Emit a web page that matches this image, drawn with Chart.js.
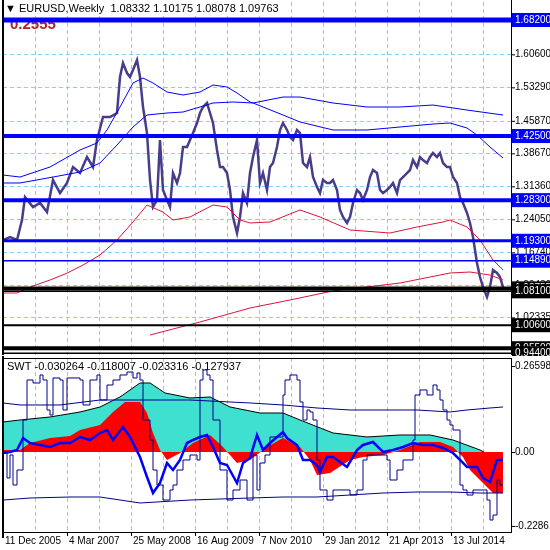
<!DOCTYPE html>
<html>
<head>
<meta charset="utf-8">
<script src="https://cdn.jsdelivr.net/npm/chart.js@4"></script>
<style>
  body { margin: 0; background: #fff; }
  #wrap { position: relative; width: 550px; height: 550px; }
  canvas { position: absolute; left: 0; }
</style>
</head>
<body>
<div id="wrap">
  <canvas id="main" width="550" height="356" style="top:0"></canvas>
  <canvas id="sub" width="550" height="194" style="top:356px"></canvas>
</div>
<script>
// weeks since 11 Dec 2005
var dateLabels = ['11 Dec 2005', '4 Mar 2007', '25 May 2008', '16 Aug 2009', '7 Nov 2010', '29 Jan 2012', '21 Apr 2013', '13 Jul 2014'];
var labelStep = 64;

var priceWeeks = [0,7,14,19,22,30,37,44,50,57,64,70,77,84,90,94,100,107,114,117,120,124,127,130,134,137,140,144,147,150,154,157,160,164,167,170,174,177,180,184,187,190,194,197,200,204,207,210,214,217,220,224,227,230,234,237,240,244,247,250,254,257,260,264,267,270,274,277,280,284,287,290,294,297,300,304,307,310,314,317,320,324,327,330,334,337,340,344,347,350,354,357,360,364,367,370,374,377,380,384,387,390,394,397,400,404,407,410,414,417,420,424,427,430,434,437,440,444,447,450,454,457,460,464,467,470,474,477,480,484,487,490,494,497,500];
var priceClose = [1.1947,1.2013,1.1947,1.2390,1.2899,1.2678,1.2767,1.2567,1.3276,1.2988,1.3210,1.3564,1.3431,1.3785,1.3564,1.4162,1.4671,1.4671,1.4760,1.5557,1.5868,1.5646,1.5557,1.5713,1.5934,1.5557,1.4893,1.4317,1.3276,1.2678,1.2833,1.4162,1.3055,1.2833,1.2678,1.3431,1.3210,1.3431,1.4007,1.4007,1.4162,1.4317,1.4539,1.4760,1.4893,1.4982,1.4760,1.4539,1.3941,1.3564,1.3564,1.3431,1.3055,1.2457,1.2102,1.2457,1.2988,1.2767,1.3431,1.3785,1.4162,1.3210,1.3431,1.3055,1.3564,1.3653,1.4007,1.4384,1.4539,1.4384,1.4228,1.4162,1.4384,1.4317,1.3653,1.3564,1.3785,1.3342,1.3121,1.2988,1.3276,1.3210,1.3210,1.3276,1.3055,1.2612,1.2457,1.2324,1.2457,1.2767,1.3055,1.2988,1.2833,1.3055,1.3342,1.3498,1.3431,1.3055,1.2988,1.3055,1.3121,1.3210,1.2988,1.3276,1.3342,1.3431,1.3498,1.3719,1.3564,1.3785,1.3719,1.3653,1.3785,1.3874,1.3785,1.3874,1.3653,1.3564,1.3564,1.3342,1.3210,1.2899,1.2767,1.2545,1.2324,1.2013,1.1438,1.1127,1.0906,1.0685,1.0906,1.1283,1.1216,1.1127,1.0906];

var maFastWeeks = [0,17,47,77,94,104,117,130,140,150,164,180,197,210,224,234,247,250,280,297,330,364,397,430,464,500];
var maFast = [1.3387,1.3342,1.3564,1.3941,1.4096,1.4384,1.4893,1.5425,1.5535,1.5425,1.5225,1.5159,1.5225,1.5380,1.5336,1.5203,1.5004,1.4982,1.5114,1.5114,1.4982,1.4893,1.4893,1.4937,1.4826,1.4716];
var maSlowWeeks = [0,17,50,77,97,114,130,144,164,180,197,210,230,250,280,297,330,364,397,430,447,464,474,487,500];
var maSlow = [1.3210,1.3210,1.3342,1.3453,1.3653,1.4051,1.4450,1.4716,1.4760,1.4782,1.4893,1.4982,1.5004,1.4982,1.4716,1.4561,1.4384,1.4384,1.4450,1.4516,1.4539,1.4428,1.4273,1.4007,1.3763];
var maRedWeeks = [0,14,30,47,64,80,97,114,130,144,160,170,187,210,224,237,247,267,297,317,347,387,414,440,447,464,477,490,500];
var maRed = [1.0773,1.0773,1.0928,1.1061,1.1213,1.1393,1.1615,1.1947,1.2346,1.2722,1.2567,1.2390,1.2457,1.2722,1.2678,1.2390,1.2324,1.2346,1.2612,1.2457,1.2169,1.2102,1.2235,1.2346,1.2390,1.2235,1.1947,1.1504,1.1283];
var maLongWeeks = [147,197,247,287,330,397,447,467,487,500];
var maLong = [0.9843,1.0131,1.0441,1.0618,1.0818,1.0994,1.1216,1.1238,1.1171,1.1061];

var levels = [1.682, 1.425, 1.283, 1.193, 1.1489, 1.08755, 1.081, 1.006, 0.955, 0.944];
var levelText = ['1.68200','1.42500','1.28300','1.19300','1.14890','1.08755','1.08100','1.00600','0.95500','0.94400'];
var priceTicks = [1.606, 1.5329, 1.4587, 1.3867, 1.3136, 1.2405, 1.1674, 1.0943, 1.02335, 0.955];
var priceTickText = ['1.60600','1.53290','1.45870','1.38670','1.31360','1.24050','1.16740','1.09430','1.02335','0.95500'];

var swtBandWeeks = [0,17,47,77,97,117,137,147,162,187,207,227,257,280,297,330,364,397,427,450,477,500];
var swtBand = [0.0928,0.0990,0.1083,0.1237,0.1392,0.1701,0.2134,0.2134,0.1825,0.1670,0.1701,0.1392,0.1206,0.1206,0.0990,0.0588,0.0464,0.0526,0.0526,0.0371,0.0062,-0.0309];
var swtHistWeeks = [0,17,27,47,67,77,97,110,122,137,144,150,157,164,177,190,207,220,234,247,264,280,297,307,314,327,347,360,380,397,417,437,450,460,467,480,490,500];
var swtHist = [0.0062,0.0062,0.0278,0.0433,0.0495,0.0680,0.0835,0.1237,0.1547,0.1547,0.1206,0.0588,0.0062,-0.0247,-0.0031,0.0278,0.0526,0.0155,-0.0340,-0.0247,0.0155,0.0433,0.0155,-0.0247,-0.0711,-0.0650,-0.0247,-0.0155,-0.0093,0.0062,0.0309,0.0309,0.0155,-0.0155,-0.0557,-0.0959,-0.1268,-0.1268];
var swtSignalWeeks = [0,7,14,20,27,37,47,57,67,77,87,97,104,110,120,127,137,144,150,157,164,170,177,184,190,197,204,210,217,224,234,240,247,254,260,267,274,280,284,294,300,307,314,317,324,330,337,344,354,360,370,380,390,400,410,420,430,440,450,457,464,474,480,487,494,500];
var swtSignal = [-0.0031,0,0.0062,0.0433,0.0278,0.0217,0.0155,0.0278,0.0278,0.0464,0.0371,0.0588,0.0680,0.0371,0.0773,0.0464,-0.0155,-0.0773,-0.1268,-0.0959,-0.0340,-0.0557,-0.0247,0.0278,0.0371,0.0464,0.0526,0.0155,-0.0340,-0.0402,-0.0959,-0.0340,-0.0186,0.0526,0.0062,0.0278,0.0464,0.0619,0.0433,0.0217,-0.0247,-0.0247,-0.0402,-0.0619,-0.0155,-0.0155,-0.0309,-0.0464,0.0062,0.0217,0.0309,0,0.0062,0.0155,0.0278,0.0217,0.0217,0.0124,-0.0031,-0.0247,-0.0464,-0.0464,-0.0804,-0.0928,-0.0247,-0.0247];
var swtStepWeeks = [0,4,7,10,14,20,24,30,37,40,44,47,50,57,60,64,70,77,80,87,94,97,104,110,117,124,130,134,137,140,144,147,150,154,160,167,170,174,180,187,194,197,200,204,207,210,217,224,230,237,244,250,254,257,262,267,280,282,287,294,297,300,304,307,310,314,317,324,330,337,347,354,360,364,370,380,384,387,390,394,400,404,410,412,417,424,430,434,437,440,444,447,450,454,457,460,464,470,477,484,487,490,494,497,500];
var swtStep = [-0.0031,-0.0804,-0.0093,-0.1021,-0.0557,0.0990,0.2227,0.2134,0.2382,0.2227,0.1299,0.1144,0.2289,0.2227,0.1299,0.2289,0.2289,0.2227,0.1454,0.2227,0.2382,0.1608,0.2072,0.2227,0.2382,0.2474,0.2289,0.2443,0.2227,0.0990,0.0990,0.0371,-0.0557,-0.1021,-0.1485,-0.1175,-0.1021,-0.0557,-0.0247,-0.0093,-0.0247,0.2227,0.2536,0.2382,0.2227,0.0990,-0.0557,-0.1485,-0.1175,-0.0866,-0.1485,-0.0093,-0.1175,-0.0340,-0.0093,0.0464,0.1763,0.2227,0.2382,0.2227,0.1547,0.0990,0.1299,0.1237,0.0990,-0.0247,-0.1175,-0.1485,-0.1175,-0.1175,-0.1330,-0.1175,-0.0247,-0.0093,-0.0093,-0.0093,-0.0247,-0.0866,-0.0866,-0.0557,-0.0247,-0.0247,0.0371,0.1763,0.1918,0.1763,0.2072,0.1918,0.1608,0.1299,0.0990,0.0835,0.0680,0.0680,-0.1021,-0.1175,-0.1330,-0.1175,-0.1175,-0.1485,-0.2103,-0.1949,-0.0866,-0.1021,-0.1021];
var envUpWeeks = [0,17,57,97,137,187,247,280,314,347,380,414,447,464,487,500];
var envUp = [0.1516,0.1454,0.1454,0.1608,0.1608,0.1608,0.1516,0.1454,0.1361,0.1299,0.1299,0.1299,0.1237,0.1299,0.1361,0.1392];
var envDnWeeks = [0,27,67,97,137,187,247,280,314,347,380,414,447,477,500];
var envDn = [-0.1485,-0.1423,-0.1392,-0.1392,-0.1577,-0.1485,-0.1423,-0.1392,-0.1392,-0.1330,-0.1268,-0.1237,-0.1237,-0.1268,-0.1268];
var swtTicks = [0.26598, 0, -0.22861];
var swtTickText = ['0.26598', '0.00', '-0.22861'];

function pts(xs, ys) { return xs.map(function (x, i) { return { x: x, y: ys[i] }; }); }
function line(xs, ys, color, width, extra) {
  var d = { data: pts(xs, ys), borderColor: color, borderWidth: width, pointRadius: 0, tension: 0, fill: false };
  for (var k in extra) d[k] = extra[k];
  return d;
}

var FONT = '11px "Liberation Sans", Arial, sans-serif';
var AXFONT = '10px "Liberation Sans", Arial, sans-serif';
var GRID = '#87cefa';

function vGrid(ctx, area, xs) {
  ctx.save();
  ctx.strokeStyle = GRID; ctx.lineWidth = 1; ctx.setLineDash([4, 3]);
  for (var w = 32; w < 508; w += 32) {
    var px = Math.round(xs.getPixelForValue(w)) + 0.5;
    ctx.beginPath(); ctx.moveTo(px, area.top); ctx.lineTo(px, area.bottom); ctx.stroke();
  }
  ctx.restore();
}

var mainDecor = {
  id: 'mainDecor',
  beforeDatasetsDraw: function (chart) {
    var ctx = chart.ctx, a = chart.chartArea, ys = chart.scales.y;
    vGrid(ctx, a, chart.scales.x);
    ctx.save();
    ctx.strokeStyle = GRID; ctx.setLineDash([4, 3]);
    priceTicks.forEach(function (v) {
      var py = Math.round(ys.getPixelForValue(v)) + 0.5;
      ctx.beginPath(); ctx.moveTo(a.left, py); ctx.lineTo(a.right, py); ctx.stroke();
    });
    ctx.restore();
    ctx.save();
    ctx.fillStyle = '#b22222'; ctx.font = 'bold 15px "Liberation Sans", Arial, sans-serif';
    ctx.fillText('0.2555', 10, 29);
    ctx.restore();
  },
  afterDatasetsDraw: function (chart) {
    var ctx = chart.ctx, a = chart.chartArea, ys = chart.scales.y;
    var widths = [5, 4, 4, 3, 1.5, 4, 1.5, 2, 4, 1.5];
    ctx.save();
    levels.forEach(function (v, i) {
      var py = ys.getPixelForValue(v);
      ctx.strokeStyle = v > 1.1 ? '#0000ff' : '#000000';
      ctx.lineWidth = widths[i];
      ctx.beginPath(); ctx.moveTo(a.left, py); ctx.lineTo(a.right, py); ctx.stroke();
    });
    // frame
    ctx.strokeStyle = '#000'; ctx.lineWidth = 2;
    ctx.beginPath(); ctx.moveTo(a.left, 0); ctx.lineTo(a.left, a.bottom); ctx.stroke();
    ctx.lineWidth = 1;
    ctx.beginPath(); ctx.moveTo(a.right + 0.5, 0); ctx.lineTo(a.right + 0.5, a.bottom); ctx.stroke();
    // header
    ctx.fillStyle = '#fff'; ctx.fillRect(a.left + 1, 0, 270, 16);
    ctx.fillStyle = '#000'; ctx.font = FONT; ctx.textBaseline = 'middle';
    ctx.fillText('\u25BC EURUSD,Weekly  1.08332 1.10175 1.08078 1.09763', 5, 9);
    // right axis
    ctx.font = AXFONT;
    ctx.fillStyle = '#fff'; ctx.fillRect(a.right + 1, 0, 550 - a.right, chart.height);
    ctx.fillStyle = '#000';
    priceTicks.forEach(function (v, i) {
      var py = ys.getPixelForValue(v);
      ctx.fillRect(a.right, py, 4, 1);
      ctx.fillText(priceTickText[i], a.right + 4, py);
    });
    levels.forEach(function (v, i) {
      var py = ys.getPixelForValue(v);
      ctx.fillStyle = v > 1.1 ? '#0000ff' : '#000000';
      ctx.fillRect(a.right + 1, py - 7, 550 - a.right, 14);
      ctx.fillStyle = '#fff';
      ctx.fillText(levelText[i], a.right + 4, py);
    });
    ctx.restore();
  }
};

var subDecor = {
  id: 'subDecor',
  beforeDatasetsDraw: function (chart) { vGrid(chart.ctx, chart.chartArea, chart.scales.x); },
  afterDatasetsDraw: function (chart) {
    var ctx = chart.ctx, a = chart.chartArea, ys = chart.scales.y, xs = chart.scales.x;
    ctx.save();
    ctx.strokeStyle = '#000'; ctx.lineWidth = 1;
    ctx.strokeRect(a.left + 0.5, a.top + 0.5, a.right - a.left, a.bottom - a.top);
    ctx.lineWidth = 2;
    ctx.beginPath(); ctx.moveTo(a.left, 0); ctx.lineTo(a.left, a.bottom + 6); ctx.stroke();
    ctx.font = FONT; ctx.fillStyle = '#000'; ctx.textBaseline = 'middle';
    ctx.fillText('SWT -0.030264 -0.118007 -0.023316 -0.127937', 7, a.top + 9);
    ctx.font = AXFONT;
    swtTicks.forEach(function (v, i) {
      var py = ys.getPixelForValue(v);
      ctx.fillRect(a.right, py, 4, 1);
      ctx.fillText(swtTickText[i], a.right + 4, py);
    });
    ctx.textBaseline = 'top';
    dateLabels.forEach(function (t, i) {
      var px = xs.getPixelForValue(i * labelStep);
      ctx.fillRect(px, a.bottom, 1, 4);
      ctx.fillText(t, px + 2, a.bottom + 4);
    });
    ctx.restore();
  }
};

var hiddenX = { type: 'linear', min: 0, max: 508, display: false };

new Chart(document.getElementById('main'), {
  type: 'line',
  data: { datasets: [
    line(maFastWeeks, maFast, '#0000ff', 1),
    line(maSlowWeeks, maSlow, '#0000ff', 1),
    line(maRedWeeks, maRed, '#dc143c', 1),
    line(maLongWeeks, maLong, '#dc143c', 1),
    line(priceWeeks, priceClose, '#483d8b', 2.5)
  ] },
  options: {
    responsive: false, animation: false, devicePixelRatio: 1,
    layout: { padding: { left: 3, right: 39, top: 2, bottom: 1 } },
    plugins: { legend: { display: false }, tooltip: { enabled: false } },
    scales: { x: hiddenX, y: { min: 0.9400, max: 1.7219, display: false } }
  },
  plugins: [mainDecor]
});

new Chart(document.getElementById('sub'), {
  type: 'line',
  data: { datasets: [
    line(swtBandWeeks, swtBand, '#000', 1, { fill: 'origin', backgroundColor: '#40e0d0', order: 6 }),
    line(swtHistWeeks, swtHist, 'rgba(0,0,0,0)', 0, { fill: 'origin', backgroundColor: '#ff0000', order: 5 }),
    line(envUpWeeks, envUp, '#00008b', 1, { order: 4 }),
    line(envDnWeeks, envDn, '#00008b', 1, { order: 4 }),
    line(swtStepWeeks, swtStep, '#00008b', 1, { stepped: true, order: 3 }),
    line(swtSignalWeeks, swtSignal, '#0000ff', 2.5, { order: 1 })
  ] },
  options: {
    responsive: false, animation: false, devicePixelRatio: 1,
    layout: { padding: { left: 3, right: 39, top: 2, bottom: 18 } },
    plugins: { legend: { display: false }, tooltip: { enabled: false } },
    scales: { x: hiddenX, y: { min: -0.2474, max: 0.2907, display: false } }
  },
  plugins: [subDecor]
});
</script>
</body>
</html>
